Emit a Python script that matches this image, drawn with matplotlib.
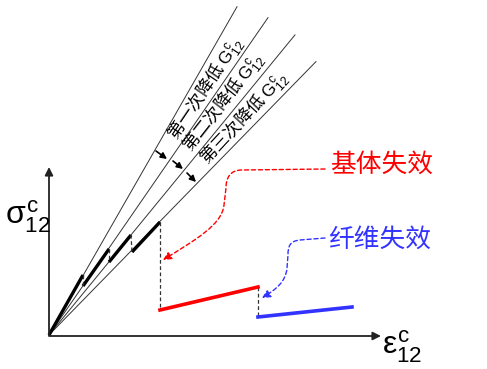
import numpy as np
import matplotlib
matplotlib.use('Agg')
from matplotlib import pyplot as plt
from matplotlib.path import Path
from matplotlib.patches import FancyArrowPatch

plt.rcParams['font.family'] = ['Noto Sans CJK SC', 'DejaVu Sans']
plt.rcParams['mathtext.fontset'] = 'custom'
plt.rcParams['mathtext.rm'] = 'Liberation Sans'
plt.rcParams['mathtext.it'] = 'Liberation Sans'

# Stiffness of the four secant lines (stress / strain)
slopes = [1.746, 1.449, 1.22, 1.024]
line_end_x = [188, 219, 246, 267]

# Stepwise degradation path (strain, stress)
seg_x = [[0, 34], [34, 60], [60, 82], [83, 111]]
seg_y = [[0, 60], [49, 86], [73, 100], [83, 113]]
drop_x = [[34, 34], [60, 60], [82, 83], [111, 111], [209, 209]]
drop_y = [[60, 49], [86, 73], [100, 83], [113, 25], [48, 18]]
matrix_x, matrix_y = [111, 209], [25, 48]
fiber_x, fiber_y = [209, 303], [18, 28]

labels = ['第一次降低 $\\mathrm{G}_{12}^{\\mathrm{c}}$',
          '第二次降低 $\\mathrm{G}_{12}^{\\mathrm{c}}$',
          '第三次降低 $\\mathrm{G}_{12}^{\\mathrm{c}}$']
label_pos = [(157, 246), (174, 232), (195, 217)]
label_rot = [56, 52, 47]

arrow_start = [(107, 184), (124, 174), (138, 162)]
arrow_end = [(118, 176), (134, 166), (147, 153)]

red_path = [(276, 166), (193, 165), (181, 165), (177, 157), (177, 147),
            (175, 130), (173, 110), (146, 95), (114, 75)]
blue_path = [(276, 97), (251, 95), (241, 94), (239, 89), (239, 80),
             (238, 67), (237, 53), (226, 45), (213, 37)]
curve_codes = [Path.MOVETO, Path.LINETO, Path.CURVE4, Path.CURVE4, Path.CURVE4,
               Path.LINETO, Path.CURVE4, Path.CURVE4, Path.CURVE4]

fig = plt.figure(figsize=(4.87, 3.69), dpi=100)
ax = fig.add_axes([0, 0, 1, 1])
ax.set_xlim(-49, 438)
ax.set_ylim(-34, 335)
ax.axis('off')

# axes with arrows
ax.annotate('', xy=(0, 168), xytext=(0, 0),
            arrowprops=dict(arrowstyle='-|>', color='#222222', lw=1.3,
                            mutation_scale=12, shrinkA=0, shrinkB=0))
ax.annotate('', xy=(332, -1), xytext=(0, -1),
            arrowprops=dict(arrowstyle='-|>', color='#222222', lw=1.3,
                            mutation_scale=12, shrinkA=0, shrinkB=0))

# secant lines
for s, xe in zip(slopes, line_end_x):
    xs = np.array([0, xe])
    ax.plot(xs, s * xs, color='#333333', lw=0.7)

for xs, ys in zip(seg_x, seg_y):
    ax.plot(xs, ys, color='black', lw=2.4, solid_capstyle='butt')
for xs, ys in zip(drop_x, drop_y):
    ax.plot(xs, ys, color='#333333', lw=0.9, ls=(0, (3, 2)))

ax.plot(matrix_x, matrix_y, color='#ff0000', lw=2.6)
ax.plot(fiber_x, fiber_y, color='#3333ff', lw=2.6)

for t, p, r in zip(labels, label_pos, label_rot):
    ax.text(p[0], p[1], t, rotation=r, rotation_mode='anchor',
            ha='center', va='center', fontsize=12.5)

for a, b in zip(arrow_start, arrow_end):
    ax.annotate('', xy=b, xytext=a,
                arrowprops=dict(arrowstyle='-|>', color='black', lw=1.2,
                                mutation_scale=9, shrinkA=0, shrinkB=0))

for pts, col in [(red_path, '#ff0000'), (blue_path, '#3333ff')]:
    arr = FancyArrowPatch(path=Path(pts, curve_codes), arrowstyle='-|>',
                          mutation_scale=12, color=col, lw=1.0,
                          linestyle=(0, (3, 2)))
    ax.add_patch(arr)

ax.text(333, 170, '基体失效', color='#ff0000', fontsize=18.5, ha='center', va='center')
ax.text(331, 95, '纤维失效', color='#3333ff', fontsize=18.5, ha='center', va='center')

ax.text(-44, 118, '$\\sigma_{12}^{\\mathrm{c}}$', fontsize=23, ha='left', va='center')
ax.text(333, -12, '$\\varepsilon_{12}^{\\mathrm{c}}$', fontsize=23, ha='left', va='center')

plt.savefig('out.png', dpi=100)
